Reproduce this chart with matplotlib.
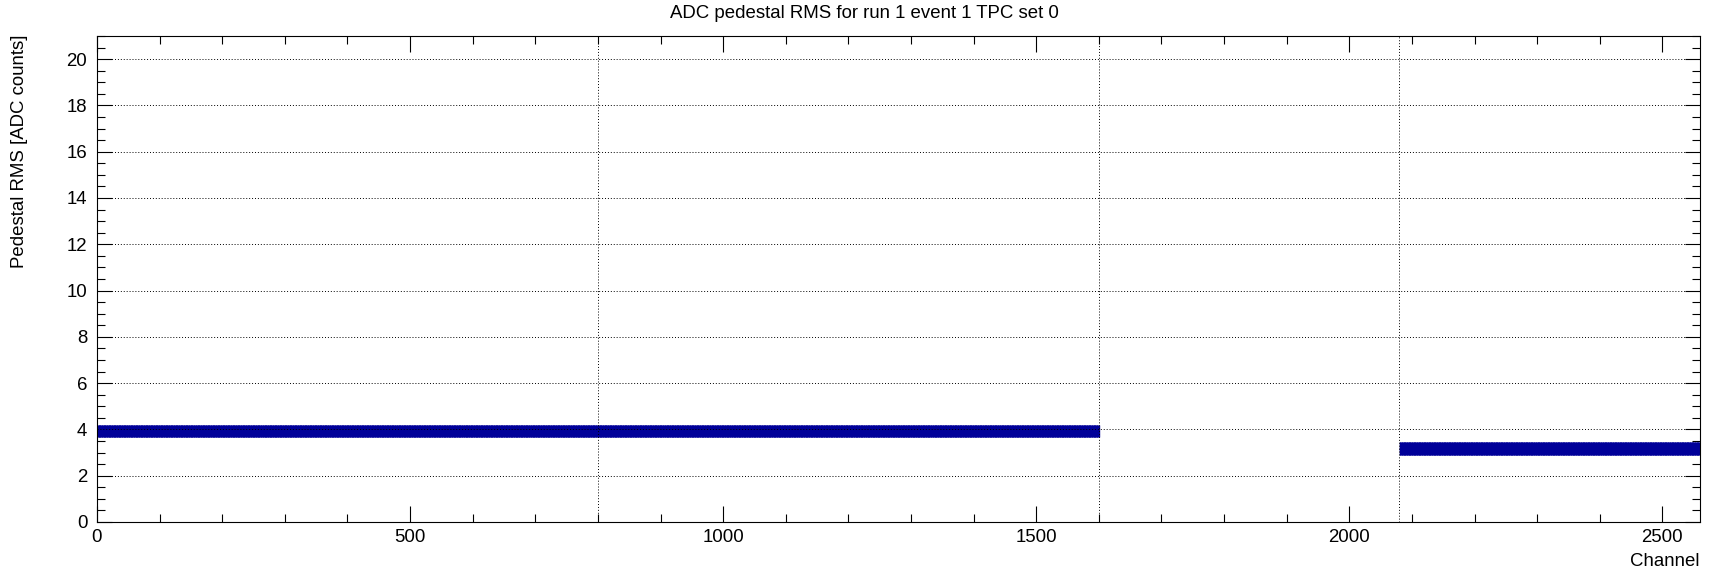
import numpy as np
import matplotlib
matplotlib.use("Agg")
import matplotlib.pyplot as plt
from matplotlib.ticker import MultipleLocator

plt.rcParams['font.family'] = ['Liberation Sans', 'DejaVu Sans']

# ---- data ----
# TPC set 0, first group of channels: 0..1599, in blocks of 50 channels
a_first_channel = 0
a_block = 50
a_center = [3.94, 3.94, 3.94, 3.94, 3.94, 3.94, 3.94, 3.94,
            3.94, 3.94, 3.94, 3.94, 3.94, 3.94, 3.94, 3.94,
            3.94, 3.94, 3.94, 3.94, 3.94, 3.94, 3.94, 3.94,
            3.94, 3.94, 3.94, 3.94, 3.94, 3.94, 3.94, 3.93]
a_err = [0.25, 0.25, 0.25, 0.25, 0.25, 0.25, 0.25, 0.25,
         0.25, 0.25, 0.25, 0.25, 0.25, 0.25, 0.25, 0.25,
         0.25, 0.25, 0.25, 0.25, 0.25, 0.25, 0.25, 0.25,
         0.25, 0.25, 0.25, 0.25, 0.25, 0.25, 0.25, 0.25]
# second group of channels: 2080..2559, in blocks of 40 channels
b_first_channel = 2080
b_block = 40
b_center = [3.17, 3.17, 3.17, 3.17, 3.17, 3.17, 3.17, 3.17, 3.17, 3.17, 3.17, 3.17]
b_err = [0.27, 0.27, 0.27, 0.27, 0.27, 0.27, 0.27, 0.27, 0.27, 0.27, 0.27, 0.27]

boundaries = [800, 1600, 2080]
x_major = [0, 500, 1000, 1500, 2000, 2500]
y_major = list(range(0, 21, 2))
title = "ADC pedestal RMS for run 1 event 1 TPC set 0"
xlabel = "Channel"
ylabel = "Pedestal RMS [ADC counts]"

color = '#000099'
fs = 13.4

W, H = 1715, 574
fig = plt.figure(figsize=(W / 100, H / 100), dpi=100)
ax = fig.add_axes([97 / W, 1 - 522 / H, (1700 - 97) / W, (522 - 36) / H])

for first, block, cen, err in [(a_first_channel, a_block, a_center, a_err),
                               (b_first_channel, b_block, b_center, b_err)]:
    vals = np.repeat(np.array(cen), block)
    errs = np.repeat(np.array(err), block)
    ch = first + np.arange(len(vals)) + 0.5
    ax.vlines(ch, vals - errs, vals + errs, color=color, lw=1.0, zorder=2)
    ax.hlines(vals, ch - 0.5, ch + 0.5, color=color, lw=1.0, zorder=2)

ax.set_xlim(0, 2560)
ax.set_ylim(0, 21)

ax.set_xticks(x_major)
ax.set_yticks(y_major)
ax.xaxis.set_minor_locator(MultipleLocator(100))
ax.yaxis.set_minor_locator(MultipleLocator(0.5))

for yv in y_major[1:]:
    ax.axhline(yv, color='black', lw=0.7, ls=(0, (1, 2)), zorder=3)
for xv in boundaries:
    ax.axvline(xv, color='black', lw=0.7, ls=(0, (1, 2)), zorder=3)

ax.tick_params(axis='both', which='both', direction='in', top=True, right=True,
               width=0.8, labelsize=fs)
ax.tick_params(axis='y', which='major', length=11, pad=7)
ax.tick_params(axis='y', which='minor', length=5.8)
ax.tick_params(axis='x', which='major', length=11.5, pad=5)
ax.tick_params(axis='x', which='minor', length=5.8)
for s in ax.spines.values():
    s.set_linewidth(0.8)

fig.text(864 / W, 1 - 14 / H, title, ha='center', va='center', fontsize=fs)
fig.text(20 / W, 1 - 151 / H, ylabel, ha='center', va='center', rotation=90, fontsize=fs)
fig.text(1700 / W, 1 - 562 / H, xlabel, ha='right', va='center', fontsize=fs)

fig.savefig('out.png', dpi=100)
